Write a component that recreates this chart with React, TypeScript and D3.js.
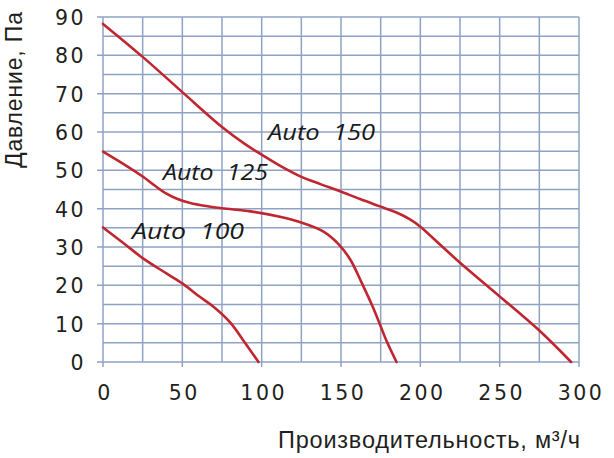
import React from "react";
import * as d3 from "d3";

const xTicks = [0, 50, 100, 150, 200, 250, 300];
const yTicks = [0, 10, 20, 30, 40, 50, 60, 70, 80, 90];
const xGrid = [0, 25, 50, 75, 100, 125, 150, 175, 200, 225, 250, 275, 300];
const yGrid = [0, 5, 10, 15, 20, 25, 30, 35, 40, 45, 50, 55, 60, 65, 70, 75, 80, 85, 90];

const seriesNames = ["Auto 100", "Auto 125", "Auto 150"];

const auto100X = [0, 13, 25, 40, 50, 61, 70, 80, 89, 98];
const auto100Y = [35.1, 31, 27.1, 23.1, 20.5, 17, 14.3, 10.4, 5.3, 0];

const auto125X = [0, 12, 25, 33, 40, 47, 55, 65, 75, 93, 110, 124, 139, 149, 156, 163, 170, 175, 179, 185];
const auto125Y = [54.9, 51.9, 48.4, 45.9, 43.9, 42.5, 41.5, 40.7, 40.1, 39.3, 38, 36.5, 34, 30.5, 26.6, 20.7, 14.4, 9.3, 5.2, 0];

const auto150X = [0, 25, 50, 75, 90, 100, 112, 124, 137, 149, 162, 174.5, 185, 193.5, 200, 212, 225, 249.5, 275, 295];
const auto150Y = [88.2, 79.6, 70.4, 61.3, 56.7, 54.1, 51.1, 48.5, 46.4, 44.6, 42.5, 40.6, 39, 37.2, 35.3, 30.8, 25.9, 17.3, 8.2, 0];

// label anchors in data units
const labelX = [18.3, 37.8, 104];
const labelY = [32.1, 47.5, 57.9];

const xTitle = "Производительность, м³/ч";
const yTitle = "Давление, Па";

export default function App() {
  const W = 614, H = 458;
  const x = d3.scaleLinear().domain([0, 300]).range([103, 579]);
  const y = d3.scaleLinear().domain([0, 90]).range([362, 17]);
  const gridColor = "#8fa2c4";
  const red = "#c0262f";
  const textColor = "#231f20";

  const series = [
    { name: seriesNames[0], xs: auto100X, ys: auto100Y },
    { name: seriesNames[1], xs: auto125X, ys: auto125Y },
    { name: seriesNames[2], xs: auto150X, ys: auto150Y },
  ];
  const line = d3
    .line<[number, number]>()
    .x((d) => x(d[0]))
    .y((d) => y(d[1]))
    .curve(d3.curveCatmullRom.alpha(0.5));

  const labelWidths = [112, 105, 107];

  return (
    <svg
      width={W}
      height={H}
      style={{ position: "absolute", left: 0, top: 0, background: "#fff" }}
    >
      <rect x={0} y={0} width={W} height={H} fill="#fff" />
      {/* grid */}
      {xGrid.map((v) => (
        <line
          key={"vx" + v}
          x1={x(v)}
          x2={x(v)}
          y1={y(90)}
          y2={v % 50 === 0 ? y(0) + 5 : y(0)}
          stroke={gridColor}
          strokeWidth={1.5}
        />
      ))}
      {yGrid.map((v) => (
        <line
          key={"hy" + v}
          x1={v % 10 === 0 ? x(0) - 6 : x(0)}
          x2={x(300)}
          y1={y(v)}
          y2={y(v)}
          stroke={gridColor}
          strokeWidth={1.5}
        />
      ))}
      {/* curves */}
      {series.map((s) => (
        <path
          key={s.name}
          d={line(s.xs.map((v, i) => [v, s.ys[i]] as [number, number])) || ""}
          fill="none"
          stroke={red}
          strokeWidth={2.6}
          strokeLinecap="round"
        />
      ))}
      {/* series labels */}
      {series.map((s, i) => (
        <text
          key={"l" + s.name}
          x={x(labelX[i])}
          y={y(labelY[i])}
          fontFamily="'Open Sans', 'DejaVu Sans', sans-serif"
          fontStyle="italic"
          fontSize={21}
          fill="#1a1a1a"
          textLength={labelWidths[i]}
          lengthAdjust="spacingAndGlyphs"
          style={{ whiteSpace: "pre" }}
        >
          {s.name.replace(" ", "  ")}
        </text>
      ))}
      {/* y tick labels */}
      {yTicks.map((v) => (
        <text
          key={"yt" + v}
          x={86}
          y={y(v) + 8}
          textAnchor="end"
          fontFamily="'DejaVu Sans', sans-serif"
          fontSize={20.5}
          letterSpacing={2.5}
          fill={textColor}
        >
          {v}
        </text>
      ))}
      {/* x tick labels */}
      {xTicks.map((v) => (
        <text
          key={"xt" + v}
          x={x(v) + 2}
          y={400}
          textAnchor="middle"
          fontFamily="'DejaVu Sans', sans-serif"
          fontSize={20.5}
          letterSpacing={2.5}
          fill={textColor}
        >
          {v}
        </text>
      ))}
      {/* axis titles */}
      <text
        x={278}
        y={448}
        fontFamily="'Liberation Sans', Arial, sans-serif"
        fontSize={23.5}
        fill={textColor}
        textLength={302}
        lengthAdjust="spacing"
      >
        {xTitle}
      </text>
      <text
        transform="translate(22,90) rotate(-90)"
        textAnchor="middle"
        fontFamily="'Liberation Sans', Arial, sans-serif"
        fontSize={23}
        fill={textColor}
        textLength={156}
        lengthAdjust="spacing"
      >
        {yTitle}
      </text>
    </svg>
  );
}
